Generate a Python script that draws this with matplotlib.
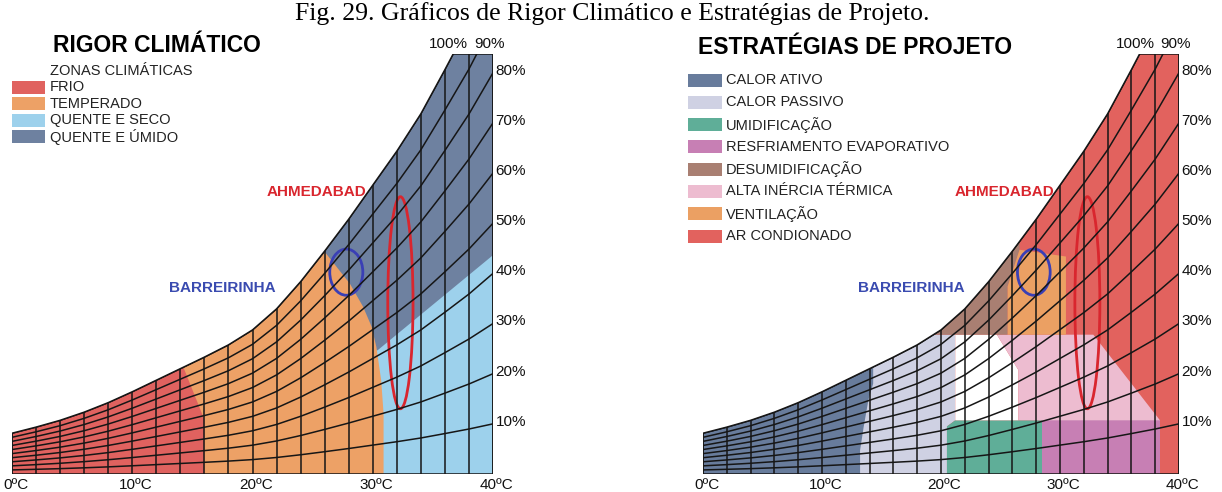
import matplotlib.pyplot as plt
from matplotlib.patches import Polygon, Ellipse, Rectangle
import numpy as np

plt.rcParams['font.family'] = ['Liberation Sans', 'DejaVu Sans']

W, H = 1222, 492

# dry bulb temperature of the vertical grid lines (ºC)
temps = [0, 2, 4, 6, 8, 10, 12, 14, 16, 18, 20, 22, 24, 26, 28, 30, 32, 34, 36, 38, 40]
# saturation curve (vapour pressure, kPa)
sat = [0.60, 0.69, 0.79, 0.91, 1.05, 1.21, 1.38, 1.55, 1.72, 1.90, 2.12,
       2.43, 2.83, 3.28, 3.75, 4.25, 4.75, 5.30, 5.95, 6.62, 7.38]
rh_levels = [10, 20, 30, 40, 50, 60, 70, 80, 90, 100]
rh_side_labels = ['10%', '20%', '30%', '40%', '50%', '60%', '70%', '80%']
temp_labels = ['0ºC', '10ºC', '20ºC', '30ºC', '40ºC']
top = 6.18  # chart is cut here

# --- RIGOR CLIMÁTICO zones (ºC, kPa) ---
zonas = ['FRIO', 'TEMPERADO', 'QUENTE E SECO', 'QUENTE E ÚMIDO']
zonas_cores = ['#E0625F', '#EDA166', '#9DD1EC', '#6E81A0']
frio = [(0, 0), (16.0, 0), (16.0, 0.8), (14.3, 1.55), (14.3, 7), (0, 7)]
temperado = [(0, 0), (30.9, 0), (30.9, 0.89), (30.7, 1.38), (30.3, 1.87), (29.9, 2.17),
             (29.2, 2.46), (28.1, 2.80), (26.0, 3.27), (26.0, 7), (0, 7)]
quente_seco = [(29.5, 0), (40, 0), (40, 3.22), (30.4, 1.82), (29.5, 1.82)]

# --- ESTRATÉGIAS DE PROJETO zones (ºC, kPa) ---
estrategias = ['CALOR ATIVO', 'CALOR PASSIVO', 'UMIDIFICAÇÃO', 'RESFRIAMENTO EVAPORATIVO',
               'DESUMIDIFICAÇÃO', 'ALTA INÉRCIA TÉRMICA', 'VENTILAÇÃO', 'AR CONDIONADO']
estr_cores = ['#687C9C', '#CFD1E3', '#5FAE98', '#C77FB4',
              '#A97F72', '#EDBCD0', '#EBA063', '#E2625E']
calor_passivo = [(12, 0), (20.5, 0), (20.5, 0.70), (21.2, 0.79), (21.2, 2.05), (12, 2.05)]
calor_ativo = [(0, 0), (13.2, 0), (13.2, 0.35), (13.5, 0.69), (13.9, 1.09), (14.3, 1.33), (14.3, 3), (0, 3)]
umidificacao = [(20.5, 0), (28.5, 0), (28.5, 0.79), (21.2, 0.79), (20.5, 0.70)]
resfriamento = [(28.5, 0), (38.4, 0), (38.4, 0.79), (28.5, 0.79)]
conforto = [(21.2, 0.79), (26.5, 0.79), (26.5, 1.53), (24.7, 2.05), (21.2, 2.05)]
inercia = [(24.7, 2.05), (32.8, 2.05), (38.4, 0.79), (26.5, 0.79), (26.5, 1.53)]
desumid = [(15, 2.05), (25.6, 2.05), (25.6, 2.76), (26.6, 3.30), (26.6, 7), (15, 7)]
ventilacao = [(25.6, 2.05), (30.5, 2.05), (30.5, 3.2), (26.6, 3.3), (25.6, 2.76)]

# cities: (T, kPa) centre, width, height
ahmedabad = (32.3, 2.52, 2.1, 3.12)
barreirinha = (27.8, 2.97, 2.75, 0.68)

line_c = '#161616'


def fig_xy(x, y):
    return x / W, 1 - y / H


def draw_chart(ax, base_color, zones):
    t_top = np.interp(top, sat, temps)
    env_pts = [(0, 0), (40, 0), (40, top), (t_top, top)]
    env_pts += [(t, s) for t, s in reversed(list(zip(temps, sat))) if s < top]
    env = Polygon(env_pts, closed=True, facecolor=base_color, edgecolor='none')
    ax.add_patch(env)
    for pts, color in zones:
        p = Polygon(pts, closed=True, facecolor=color, edgecolor='none')
        ax.add_patch(p)
        p.set_clip_path(env)
    for t, s in zip(temps, sat):
        ln, = ax.plot([t, t], [0, s], color=line_c, lw=1.1)
        ln.set_clip_path(env)
    for rh in rh_levels:
        ln, = ax.plot(temps, [rh / 100 * s for s in sat], color=line_c, lw=1.1)
        ln.set_clip_path(env)
    ax.add_patch(Polygon(env_pts, closed=True, fill=False, edgecolor=line_c, lw=1.1))

    # cities
    for (cx, cy, w, h), col in [(ahmedabad, '#D9262E'), (barreirinha, '#3A3FB5')]:
        ax.add_patch(Ellipse((cx, cy), w, h, fill=False, edgecolor=col, lw=2.0))
    ax.text(25.3, 4.15, 'AHMEDABAD', color='#D9262E', fontsize=11, fontweight='bold',
            ha='center', va='center')
    ax.text(17.5, 2.74, 'BARREIRINHA', color='#3A4BB0', fontsize=11, fontweight='bold',
            ha='center', va='center')

    # labels
    for i, lab in enumerate(temp_labels):
        ax.text(i * 10 + 0.3, -0.16, lab, fontsize=11, ha='center', va='center', color='#111')
    for rh, lab in zip(rh_levels, rh_side_labels):
        ax.text(40.2, rh / 100 * sat[-1] + 0.03, lab, fontsize=11, ha='left', va='center', color='#111')
    ax.text(36.3, 6.32, '100%', fontsize=11, ha='center', va='center', color='#111')
    ax.text(39.7, 6.32, '90%', fontsize=11, ha='center', va='center', color='#111')

    ax.set_xlim(0, 40)
    ax.set_ylim(0, top)
    ax.axis('off')


fig = plt.figure(figsize=(W / 100, H / 100), dpi=100)

ax1 = fig.add_axes([12 / W, 18 / H, 481 / W, 420 / H])
ax1.patch.set_visible(False)
draw_chart(ax1, zonas_cores[3], [(quente_seco, zonas_cores[2]),
                                 (temperado, zonas_cores[1]),
                                 (frio, zonas_cores[0])])

ax2 = fig.add_axes([703 / W, 18 / H, 476 / W, 420 / H])
ax2.patch.set_visible(False)
draw_chart(ax2, estr_cores[7], [(calor_passivo, estr_cores[1]),
                                (calor_ativo, estr_cores[0]),
                                (umidificacao, estr_cores[2]),
                                (resfriamento, estr_cores[3]),
                                (conforto, '#FFFFFF'),
                                (inercia, estr_cores[5]),
                                (desumid, estr_cores[4]),
                                (ventilacao, estr_cores[6])])

# titles
fig.text(*fig_xy(612, 14), 'Fig. 29. Gráficos de Rigor Climático e Estratégias de Projeto.',
         family=['Liberation Serif', 'DejaVu Serif'], fontsize=18.5, ha='center', va='center')
fig.text(*fig_xy(53, 46), 'RIGOR CLIMÁTICO', fontsize=16.5, fontweight='bold', ha='left', va='center')
fig.text(*fig_xy(698, 47), 'ESTRATÉGIAS DE PROJETO', fontsize=16.5, fontweight='bold', ha='left', va='center')

# left legend
fig.text(*fig_xy(50, 71), 'ZONAS CLIMÁTICAS', fontsize=10.5, ha='left', va='center', color='#222')
for i, (name, col) in enumerate(zip(zonas, zonas_cores)):
    yc = 87 + i * 16.6
    x0, y0 = fig_xy(12, yc + 6.5)
    fig.add_artist(Rectangle((x0, y0), 33 / W, 13 / H, transform=fig.transFigure,
                             facecolor=col, edgecolor='none'))
    fig.text(*fig_xy(50, yc), name, fontsize=10.5, ha='left', va='center', color='#222')

# right legend
for i, (name, col) in enumerate(zip(estrategias, estr_cores)):
    yc = 80 + i * 22.3
    x0, y0 = fig_xy(688, yc + 6.5)
    fig.add_artist(Rectangle((x0, y0), 34 / W, 13 / H, transform=fig.transFigure,
                             facecolor=col, edgecolor='none'))
    fig.text(*fig_xy(726, yc), name, fontsize=10.5, ha='left', va='center', color='#222')

fig.savefig('out.png', dpi=100)
